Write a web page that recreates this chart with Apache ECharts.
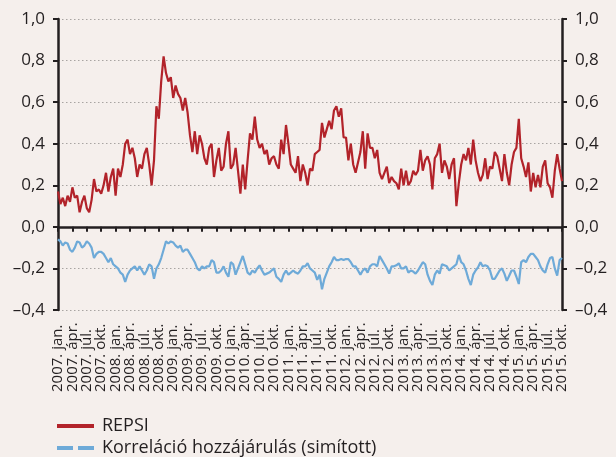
<!DOCTYPE html>
<html>
<head>
<meta charset="utf-8">
<script src="https://cdn.jsdelivr.net/npm/echarts@6/dist/echarts.min.js"></script>
<style>
  html, body { margin: 0; padding: 0; background: #f5efec; }
  #chart { width: 616px; height: 457px; }
</style>
</head>
<body>
<div id="chart"></div>
<script>
// fél havonta leolvasott értékek, 2007. jan. - 2015. okt.
const years = [2007, 2008, 2009, 2010, 2011, 2012, 2013, 2014, 2015]
const quarterNames = ['jan.', 'ápr.', 'júl.', 'okt.']
const quarterLabels = []
years.forEach(y => quarterNames.forEach(q => quarterLabels.push(y + '. ' + q)))

const stepMonths = 0.5

const repsi = [
  0.17, 0.11, 0.14, 0.10, 0.15, 0.12, 0.19, 0.14, 0.15, 0.07,
  0.12, 0.15, 0.09, 0.07, 0.13, 0.23, 0.17, 0.18, 0.16, 0.20,
  0.26, 0.17, 0.24, 0.28, 0.15, 0.28, 0.24, 0.30, 0.40, 0.42,
  0.35, 0.38, 0.33, 0.24, 0.30, 0.28, 0.35, 0.38, 0.30, 0.20,
  0.32, 0.58, 0.52, 0.70, 0.82, 0.74, 0.70, 0.72, 0.62, 0.68,
  0.64, 0.62, 0.56, 0.62, 0.55, 0.44, 0.36, 0.46, 0.35, 0.44,
  0.40, 0.33, 0.30, 0.38, 0.40, 0.24, 0.32, 0.38, 0.27, 0.29,
  0.40, 0.46, 0.28, 0.30, 0.38, 0.27, 0.16, 0.30, 0.18, 0.32,
  0.45, 0.42, 0.53, 0.42, 0.38, 0.40, 0.35, 0.37, 0.30, 0.33,
  0.34, 0.30, 0.28, 0.42, 0.35, 0.49, 0.40, 0.30, 0.28, 0.26,
  0.34, 0.22, 0.30, 0.26, 0.20, 0.28, 0.27, 0.35, 0.36, 0.37,
  0.50, 0.43, 0.47, 0.51, 0.47, 0.56, 0.58, 0.53, 0.57, 0.43,
  0.43, 0.32, 0.40, 0.30, 0.26, 0.31, 0.36, 0.46, 0.28, 0.45,
  0.38, 0.38, 0.33, 0.37, 0.26, 0.23, 0.26, 0.29, 0.21, 0.24,
  0.22, 0.21, 0.18, 0.28, 0.20, 0.27, 0.20, 0.22, 0.27, 0.25,
  0.27, 0.37, 0.27, 0.32, 0.34, 0.30, 0.18, 0.33, 0.35, 0.40,
  0.26, 0.32, 0.29, 0.23, 0.30, 0.33, 0.10, 0.21, 0.30, 0.35,
  0.32, 0.38, 0.30, 0.42, 0.32, 0.26, 0.22, 0.25, 0.33, 0.23,
  0.29, 0.28, 0.36, 0.34, 0.28, 0.22, 0.35, 0.26, 0.20, 0.30,
  0.36, 0.38, 0.52, 0.33, 0.29, 0.24, 0.31, 0.17, 0.26, 0.19,
  0.25, 0.19, 0.29, 0.32, 0.21, 0.19, 0.14, 0.27, 0.35, 0.28,
  0.22
]

const korrelacio = [
  -0.06, -0.07, -0.09, -0.075, -0.08, -0.11, -0.12, -0.10, -0.07, -0.075,
  -0.10, -0.09, -0.07, -0.08, -0.10, -0.15, -0.13, -0.12, -0.12, -0.13,
  -0.15, -0.17, -0.15, -0.18, -0.19, -0.20, -0.22, -0.23, -0.265, -0.23,
  -0.21, -0.20, -0.19, -0.21, -0.19, -0.21, -0.23, -0.21, -0.18, -0.19,
  -0.25, -0.20, -0.18, -0.15, -0.11, -0.07, -0.08, -0.07, -0.075, -0.09,
  -0.10, -0.09, -0.12, -0.11, -0.11, -0.13, -0.15, -0.17, -0.20, -0.21,
  -0.19, -0.20, -0.19, -0.19, -0.16, -0.17, -0.22, -0.22, -0.21, -0.19,
  -0.22, -0.24, -0.17, -0.18, -0.23, -0.20, -0.17, -0.14, -0.18, -0.22,
  -0.23, -0.21, -0.22, -0.20, -0.185, -0.21, -0.23, -0.225, -0.22, -0.21,
  -0.20, -0.24, -0.25, -0.265, -0.23, -0.21, -0.23, -0.22, -0.21, -0.22,
  -0.225, -0.21, -0.19, -0.19, -0.175, -0.20, -0.21, -0.22, -0.255, -0.23,
  -0.30, -0.25, -0.22, -0.19, -0.17, -0.145, -0.16, -0.16, -0.155, -0.16,
  -0.155, -0.155, -0.17, -0.19, -0.19, -0.21, -0.23, -0.21, -0.20, -0.22,
  -0.19, -0.18, -0.18, -0.19, -0.14, -0.16, -0.18, -0.20, -0.225, -0.19,
  -0.19, -0.185, -0.175, -0.20, -0.20, -0.19, -0.22, -0.21, -0.215, -0.225,
  -0.21, -0.19, -0.17, -0.18, -0.23, -0.26, -0.28, -0.23, -0.21, -0.225,
  -0.18, -0.185, -0.19, -0.21, -0.20, -0.19, -0.18, -0.135, -0.17, -0.18,
  -0.21, -0.25, -0.28, -0.23, -0.21, -0.195, -0.17, -0.19, -0.185, -0.19,
  -0.21, -0.25, -0.25, -0.23, -0.21, -0.20, -0.225, -0.26, -0.235, -0.21,
  -0.21, -0.24, -0.275, -0.17, -0.16, -0.17, -0.145, -0.13, -0.13, -0.145,
  -0.16, -0.19, -0.21, -0.22, -0.18, -0.15, -0.145, -0.20, -0.235, -0.16,
  -0.15
]

const font = 'Open Sans'
const ink = '#231f20'
const red = '#b2232a'
const blue = '#6eaad8'

const toPairs = arr => arr.map((v, i) => [i * stepMonths, v])

const fmtY = v => {
    let s = Math.abs(v).toFixed(1).replace('.', ',')
    return v < -1e-9 ? '\u2013' + s : s
}

const yAxisBase = {
    type: 'value',
    min: -0.4,
    max: 1.0,
    interval: 0.2,
    axisLine: { show: true, onZero: false, lineStyle: { color: ink, width: 2.5 } },
    axisTick: { show: true, length: 5, lineStyle: { color: ink, width: 2 } },
    axisLabel: { formatter: fmtY, fontFamily: font, fontSize: 17, color: ink, margin: 13, showMinLabel: true, showMaxLabel: true }
}

const chart = echarts.init(document.getElementById('chart'))
chart.setOption({
    animation: false,
    backgroundColor: '#f5efec',
    grid: { left: 58, right: 54, top: 19, bottom: 147 },
    xAxis: [
        {
            // csak a negyedéves feliratok
            type: 'category',
            position: 'bottom',
            data: quarterLabels,
            boundaryGap: false,
            axisLine: { show: false, onZero: false },
            axisTick: { show: false },
            splitLine: { show: false },
            axisLabel: {
                interval: 0,
                rotate: 90,
                align: 'left',
                margin: 82,
                fontFamily: font,
                fontSize: 15,
                color: ink
            }
        },
        {
            type: 'value',
            position: 'top',
            min: 0,
            max: (quarterLabels.length - 1) * 3,
            interval: 3,
            axisLine: { show: true, onZero: true, onZeroAxisIndex: 0, lineStyle: { color: ink, width: 2.5 } },
            axisTick: { show: true, inside: true, length: 5, lineStyle: { color: ink, width: 2 } },
            axisLabel: { show: false },
            splitLine: { show: false }
        }
    ],
    yAxis: [
        Object.assign({}, yAxisBase, {
            position: 'left',
            splitLine: { show: true, lineStyle: { color: '#a8a4a2', width: 1, type: [1.5, 2.5] } }
        }),
        Object.assign({}, yAxisBase, {
            position: 'right',
            splitLine: { show: false }
        })
    ],
    legend: {
        orient: 'vertical',
        left: 57,
        top: 417,
        padding: 0,
        itemWidth: 37,
        itemHeight: 4,
        itemGap: 4,
        textStyle: { fontFamily: font, fontSize: 18, color: ink, lineHeight: 17, padding: [0, 0, 0, 3] },
        data: [
            { name: 'REPSI', icon: 'rect', itemStyle: { color: red } },
            { name: 'Korreláció hozzájárulás (simított)', icon: 'path://M0,0H16V4H0Z M21,0H37V4H21Z', itemStyle: { color: blue } }
        ]
    },
    series: [
        {
            name: 'REPSI',
            type: 'line',
            xAxisIndex: 1,
            yAxisIndex: 0,
            showSymbol: false,
            color: red,
            lineStyle: { color: red, width: 2.2 },
            data: toPairs(repsi)
        },
        {
            name: 'Korreláció hozzájárulás (simított)',
            type: 'line',
            xAxisIndex: 1,
            yAxisIndex: 0,
            showSymbol: false,
            color: blue,
            lineStyle: { color: blue, width: 2.2 },
            data: toPairs(korrelacio)
        }
    ]
})
</script>
</body>
</html>
